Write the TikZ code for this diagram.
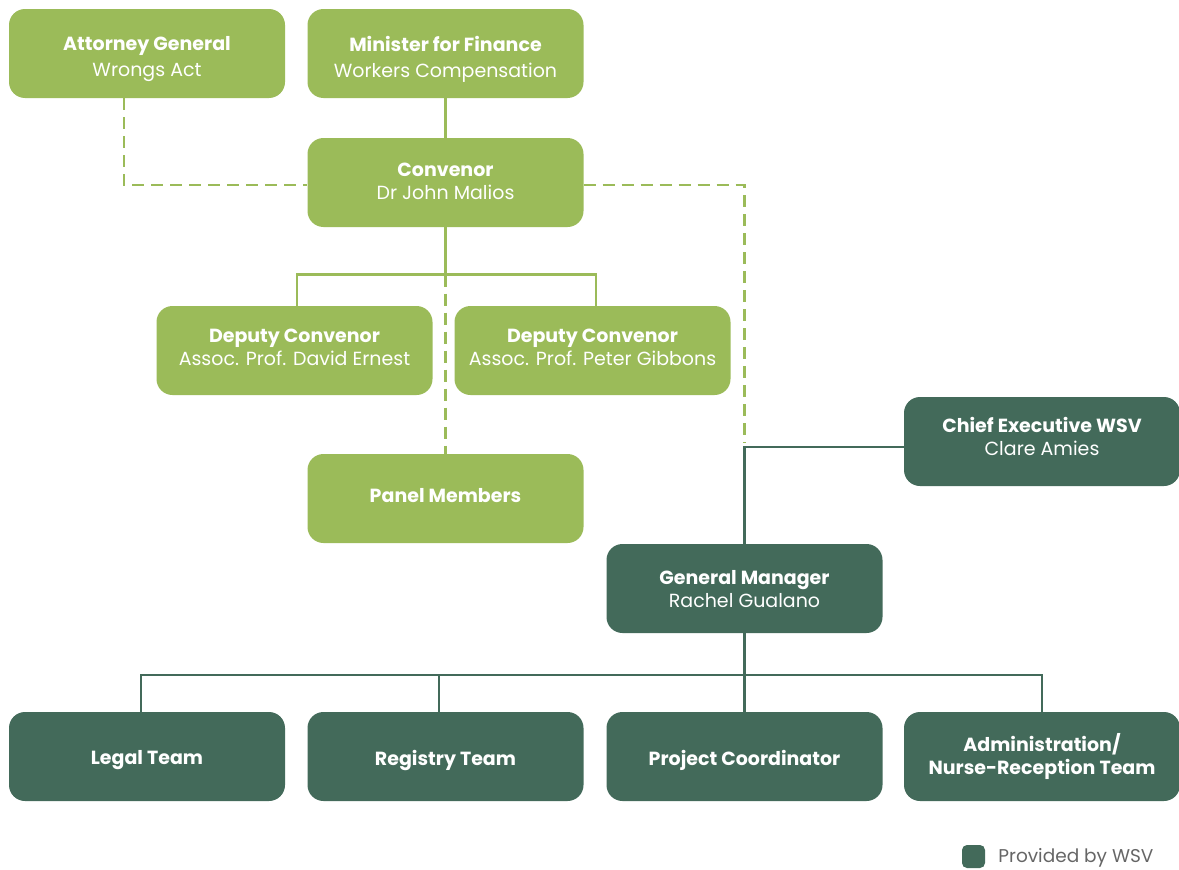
\documentclass[tikz,border=0pt]{standalone}
\usepackage{fontspec}
\setmainfont{Poppins}
\definecolor{lgreen}{HTML}{9BBB59}
\definecolor{dteal}{HTML}{436A5A}
\definecolor{legtext}{HTML}{666666}
\begin{document}
\begin{tikzpicture}[x=1pt,y=-1pt,
  box/.style={rounded corners=16pt, minimum width=276pt, minimum height=89pt, inner sep=0pt},
  gbox/.style={box, fill=lgreen},
  tbox/.style={box, fill=dteal},
  txt/.style={align=center, text=white, inner sep=0pt, font=\fontsize{19}{23}\selectfont},
  txtwide/.style={txt, font=\fontsize{19}{26}\selectfont},
  gline/.style={draw=lgreen, line width=2.6pt},
  gdash/.style={gline, dash pattern=on 12pt off 7pt},
  tline/.style={draw=dteal, line width=2.8pt}]
\useasboundingbox (0,0) rectangle (1179,870);
% boxes
\node[gbox] (ag) at (147,53.5) {};
\node[gbox] (mf) at (445.5,53.5) {};
\node[gbox] (conv) at (445.5,182.5) {};
\node[gbox] (dc1) at (294.5,350.5) {};
\node[gbox] (dc2) at (592.5,350.5) {};
\node[gbox] (pm) at (445.5,498.5) {};
\node[tbox] (ce) at (1042,441.5) {};
\node[tbox] (gm) at (744.5,588.5) {};
\node[tbox] (lt) at (147,756.5) {};
\node[tbox] (rt) at (445.5,756.5) {};
\node[tbox] (pc) at (744.5,756.5) {};
\node[tbox] (at) at (1042,756.5) {};
% texts
\node[txtwide] (ag-t) at ([yshift=-6pt]ag.center) {\textbf{Attorney General}\\Wrongs Act};
\node[txtwide] (mf-t) at ([yshift=-6pt]mf.center) {\textbf{Minister for Finance}\\Workers Compensation};
\node[txt] (conv-t) at ([yshift=1.5pt]conv.center) {\textbf{Convenor}\\Dr John Malios};
\node[txt] (dc1-t) at ([yshift=3.5pt]dc1.center) {\textbf{Deputy Convenor}\\Assoc. Prof. David Ernest};
\node[txt] (dc2-t) at ([yshift=3.5pt]dc2.center) {\textbf{Deputy Convenor}\\Assoc. Prof. Peter Gibbons};
\node[txt] (pm-t) at ([yshift=3pt]pm.center) {\textbf{Panel Members}};
\node[txt] (ce-t) at ([yshift=5pt]ce.center) {\textbf{Chief Executive WSV}\\Clare Amies};
\node[txt] (gm-t) at ([yshift=-0.5pt]gm.center) {\textbf{General Manager}\\Rachel Gualano};
\node[txt] (lt-t) at ([yshift=-4pt]lt.center) {\textbf{Legal Team}};
\node[txt] (rt-t) at ([yshift=-4pt]rt.center) {\textbf{Registry Team}};
\node[txt] (pc-t) at ([yshift=-4pt]pc.center) {\textbf{Project Coordinator}};
\node[txt] (at-t) at ([yshift=0.5pt]at.center) {\textbf{Administration/}\\\textbf{Nurse-Reception Team}};
% connectors
\coordinate (bus1) at (445.5,274.5);
\coordinate (bus2) at (744.5,675);
\coordinate (dend) at (744.5,443);
\draw[gline] (mf.south) -- (conv.north);
\draw[gdash] ([xshift=-23pt]ag.south) |- ([yshift=-2.5pt]conv.west);
\draw[gdash] ([yshift=-2.5pt]conv.east) -| (dend);
\draw[gline] (conv.south) -- (bus1);
\draw[gline] ([xshift=2.5pt]dc1.north) |- (bus1) -| ([xshift=3.5pt]dc2.north);
\draw[gdash] (bus1) -- (pm.north);
\draw[tline] ([yshift=-5.5pt]ce.west) -| (gm.north);
\draw[tline] (gm.south) -- (pc.north);
\draw[tline] ([xshift=-6pt]lt.north) |- (bus2) -| (at.north);
\draw[tline] ([xshift=-6.5pt]rt.north) -- ([xshift=-6.5pt]rt.north |- bus2);
% legend
\node[fill=dteal, rounded corners=5pt, minimum size=23pt, inner sep=0pt] (leg) at (973.5,856.5) {};
\node[anchor=west, text=legtext, font=\fontsize{18.5}{21}\selectfont, inner sep=0pt] (legt) at ([xshift=13pt,yshift=-1pt]leg.east) {Provided by WSV};
\end{tikzpicture}
\end{document}
